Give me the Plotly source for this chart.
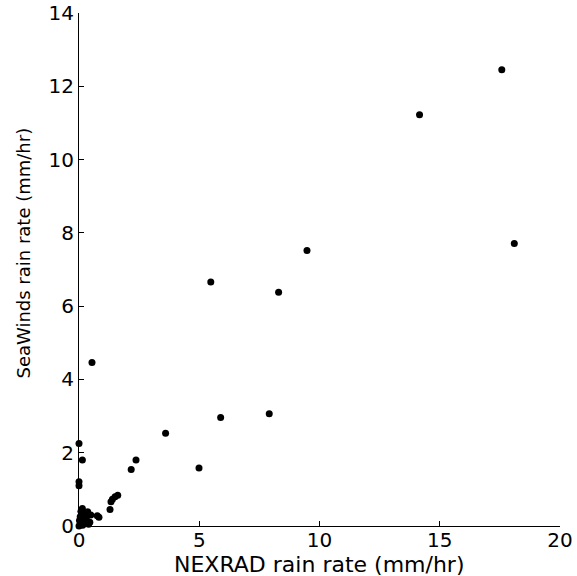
import plotly.graph_objects as go

nexrad = [17.58, 14.16, 9.48, 18.10, 5.48, 8.30, 5.89, 7.91, 3.60, 0.54,
          2.37, 2.17, 4.99, 0.00, 0.14, 0.00, 0.00, 1.61, 1.50, 1.39, 1.33,
          1.29, 0.83, 0.76, 0.36, 0.14, 0.49,
          0.05, 0.10, 0.15, 0.20, 0.25, 0.30, 0.10, 0.05, 0.35, 0.40, 0.15,
          0.00, 0.02, 0.20, 0.45, 0.30, 0.25, 0.08, 0.12]
seawinds = [12.45, 11.22, 7.52, 7.71, 6.66, 6.38, 2.96, 3.06, 2.53, 4.46,
            1.80, 1.54, 1.58, 2.25, 1.80, 1.21, 1.10, 0.84, 0.80, 0.73, 0.66,
            0.45, 0.24, 0.28, 0.39, 0.48, 0.30,
            0.05, 0.10, 0.02, 0.15, 0.08, 0.20, 0.30, 0.25, 0.12, 0.05, 0.35,
            0.00, 0.15, 0.25, 0.10, 0.35, 0.30, 0.40, 0.18]

x_ticks = [0, 5, 10, 15, 20]
y_ticks = [0, 2, 4, 6, 8, 10, 12, 14]

fig = go.Figure(go.Scatter(
    x=nexrad, y=seawinds, mode="markers",
    marker=dict(color="black", size=7, symbol="circle"),
    cliponaxis=False,
))

fam = "DejaVu Sans, sans-serif"
font = dict(family=fam, size=20, color="black")
fig.update_layout(
    width=577, height=576,
    margin=dict(l=79, r=17, t=13, b=50),
    paper_bgcolor="white", plot_bgcolor="white",
    showlegend=False,
    font=font,
    xaxis=dict(range=[0, 20], tickvals=x_ticks, ticks="inside", ticklen=5,
               tickcolor="black", showline=True, linecolor="black", linewidth=1,
               showgrid=False, zeroline=False, automargin=False,
               ticklabelstandoff=-4,
               tickfont=dict(family=fam, size=20)),
    yaxis=dict(range=[0, 14], tickvals=y_ticks, ticks="inside", ticklen=5,
               tickcolor="black", showline=True, linecolor="black", linewidth=1,
               showgrid=False, zeroline=False, automargin=False,
               tickfont=dict(family=fam, size=20)),
    annotations=[
        dict(text="NEXRAD rain rate (mm/hr)", xref="paper", yref="paper",
             x=0.5, y=0, xanchor="center", yanchor="middle", yshift=-38,
             showarrow=False, font=dict(family=fam, size=22, color="black")),
        dict(text="SeaWinds rain rate (mm/hr)", xref="paper", yref="paper",
             x=0, y=0.5, xanchor="center", yanchor="middle", xshift=-56, yshift=16,
             textangle=-90, showarrow=False,
             font=dict(family=fam, size=18, color="black")),
    ],
)

fig.write_html("out.html")
